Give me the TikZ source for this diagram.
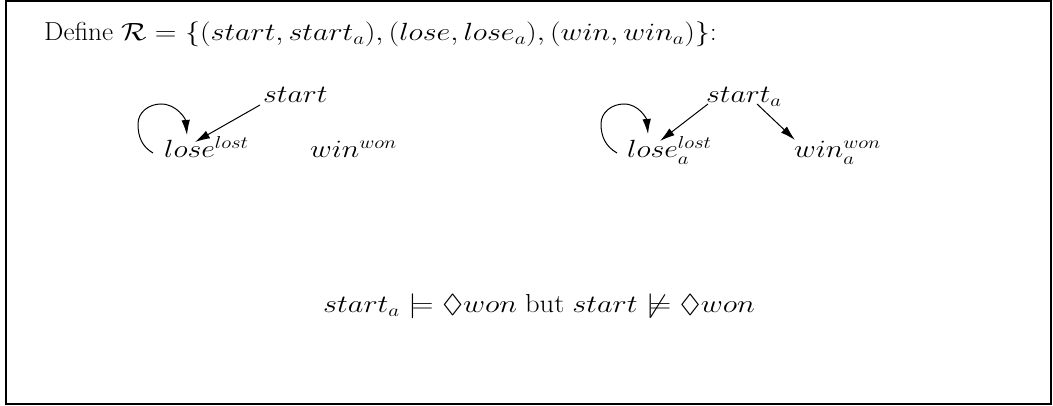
\documentclass[tikz,border=0pt]{standalone}
\usepackage{amssymb}
\usepackage{graphicx}
\usetikzlibrary{arrows.meta,calc}
\newcommand{\wm}[1]{\scalebox{1.2}[1]{$#1$}}
\begin{document}
\begin{tikzpicture}[x=1pt,y=1pt,
  lbl/.style={inner sep=0pt,anchor=base west,font=\fontsize{26}{30}\selectfont},
  arr/.style={line width=1pt,-{Latex[length=15pt,width=8.5pt]}}]
\useasboundingbox (0,0) rectangle (1053,406);
\draw[line width=1.6pt] (6,2) rectangle (1051,405);
\node[lbl] (title) at (44,365) {\scalebox{1.05}[1]{Define} \scalebox{1.21}[1]{$\mathcal{R}=\{(start,start_a),(lose,lose_a),(win,win_a)\}$}:};
\node[lbl] (start) at (263,303) {\wm{start}};
\node[lbl] (lose) at (164,248) {\wm{lose^{lost}}};
\node[lbl] (win) at (310,248) {\wm{win^{won}}};
\node[lbl] (starta) at (706,303) {\wm{start_a}};
\node[lbl] (losea) at (627,248) {\wm{lose_a^{lost}}};
\node[lbl] (wina) at (794,248) {\wm{win_a^{won}}};
\node[lbl] (formula) at (323,93) {\scalebox{1.22}[1]{$start_a \models \Diamond won$}\ \scalebox{1.1}[1]{but}\ \scalebox{1.22}[1]{$start \not\models \Diamond won$}};
% left graph
\draw[arr] ($(start.base west)+(-3,-2)$) -- ($(lose.base west)+(31,16)$);
\draw[arr] ($(lose.base west)+(-11,5)$) to[out=150,in=270] ($(lose.base west)+(-26,34)$)
  to[out=90,in=180] ($(lose.base west)+(-3,54)$) to[out=0,in=95] ($(lose.base west)+(23,23)$);
% right graph
\draw[arr] ($(starta.base west)+(2,-1)$) -- ($(losea.base west)+(33,17)$);
\draw[arr] ($(starta.base west)+(51,-1)$) -- ($(wina.base west)+(1,18)$);
\draw[arr] ($(losea.base west)+(-10,5)$) to[out=150,in=270] ($(losea.base west)+(-26,34)$)
  to[out=90,in=180] ($(losea.base west)+(-3,54)$) to[out=0,in=95] ($(losea.base west)+(21,24)$);
\end{tikzpicture}
\end{document}
